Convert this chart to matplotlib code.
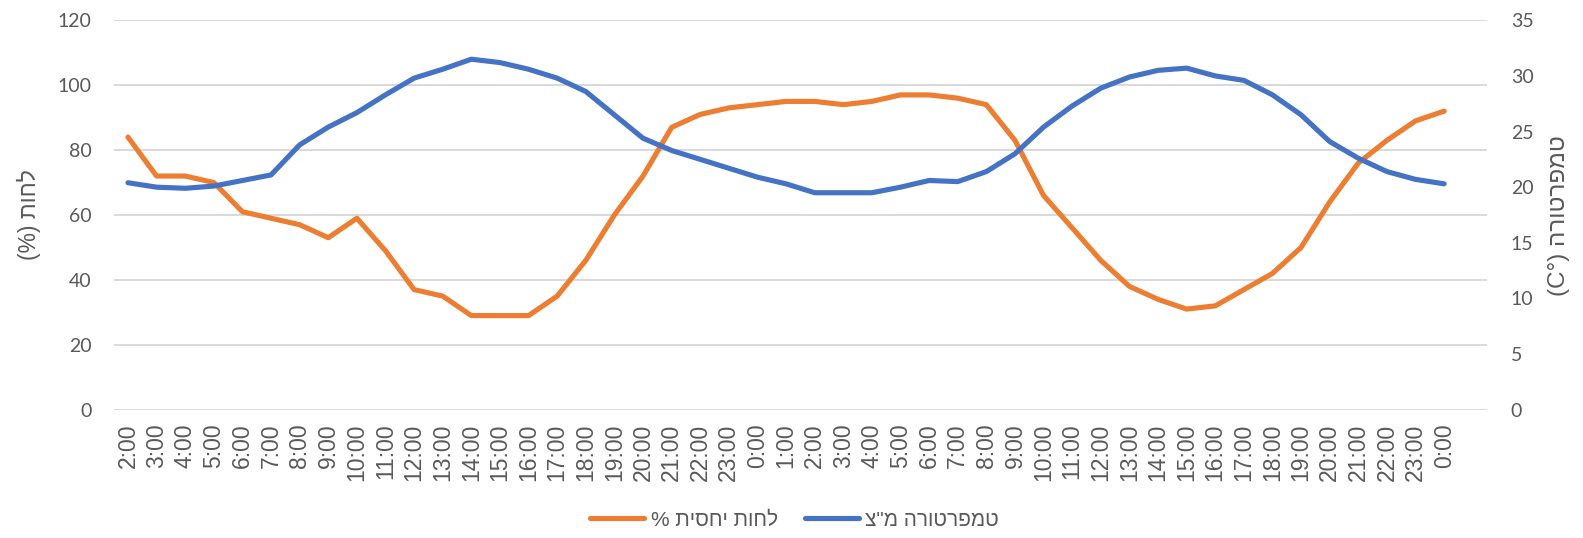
import matplotlib
matplotlib.use('Agg')
import matplotlib.pyplot as plt
from matplotlib import font_manager

# category labels (48th slot is empty, as in the original chart)
hours = ['2:00', '3:00', '4:00', '5:00', '6:00', '7:00', '8:00', '9:00', '10:00', '11:00',
         '12:00', '13:00', '14:00', '15:00', '16:00', '17:00', '18:00', '19:00', '20:00',
         '21:00', '22:00', '23:00',
         '0:00', '1:00', '2:00', '3:00', '4:00', '5:00', '6:00', '7:00', '8:00', '9:00',
         '10:00', '11:00', '12:00', '13:00', '14:00', '15:00', '16:00', '17:00', '18:00',
         '19:00', '20:00', '21:00', '22:00', '23:00', '0:00']

humidity = [84, 72, 72, 70, 61, 59, 57, 53, 59, 49, 37, 35, 29, 29, 29, 35, 46, 60, 72,
            87, 91, 93, 94, 95, 95, 94, 95, 97, 97, 96, 94, 83, 66, 56, 46, 38, 34, 31,
            32, 37, 42, 50, 64, 76, 83, 89, 92]

temperature = [20.4, 20.0, 19.9, 20.1, 20.6, 21.1, 23.8, 25.4, 26.7, 28.3, 29.8, 30.6,
               31.5, 31.2, 30.6, 29.8, 28.6, 26.5, 24.4, 23.3, 22.5, 21.7, 20.9, 20.3,
               19.5, 19.5, 19.5, 20.0, 20.6, 20.5, 21.4, 23.0, 25.4, 27.3, 28.9, 29.9,
               30.5, 30.7, 30.0, 29.6, 28.3, 26.5, 24.1, 22.6, 21.4, 20.7, 20.3]

hum_name = 'לחות יחסית %'
temp_name = 'טמפרטורה מ"צ'
hum_axis = 'לחות (%)'
temp_axis = 'טמפרטורה (°C)'


def vis(s):
    # matplotlib has no bidi support: reverse for display, mirror brackets
    r = s[::-1]
    return r.translate(str.maketrans('()', ')('))


names = {f.name for f in font_manager.fontManager.ttflist}
narrow = 'Liberation Sans Narrow' if 'Liberation Sans Narrow' in names else 'Liberation Sans'
num_font = 'Lato' if 'Lato' in names else 'DejaVu Sans'

grey = '#595959'
orange = '#ED7D31'
blue = '#4472C4'

fig = plt.figure(figsize=(15.83, 5.38), dpi=100)
ax = fig.add_axes([0.0718, 0.2385, 0.8676, 0.7238])
ax2 = ax.twinx()

x = list(range(len(hours)))
l1, = ax.plot(x, humidity, color=orange, lw=3.7, solid_capstyle='round',
              solid_joinstyle='round', label=vis(hum_name))
l2, = ax2.plot(x, temperature, color=blue, lw=3.7, solid_capstyle='round',
               solid_joinstyle='round', label=vis(temp_name))

ax.set_xlim(-0.5, 47.5)
ax.set_ylim(0, 120)
ax2.set_ylim(0, 35)
ax.set_yticks(range(0, 121, 20))
ax2.set_yticks(range(0, 36, 5))
ax.yaxis.grid(True, color='#d9d9d9', lw=1.4)
ax.set_axisbelow(True)

ax.set_xticks(x)
ax.set_xticklabels(hours, rotation=90, fontsize=16.5, color=grey, family=narrow)
ax.tick_params(axis='x', length=0, pad=10)
ax.tick_params(axis='y', length=0, pad=16, labelsize=14, labelcolor=grey)
ax2.tick_params(axis='y', length=0, pad=17, labelsize=14, labelcolor=grey)
for t in ax.get_yticklabels() + ax2.get_yticklabels():
    t.set_family(num_font)

for a in (ax, ax2):
    for s in a.spines.values():
        s.set_visible(False)

fig.text(0.018, 0.6005, vis(hum_axis), rotation=90, ha='center', va='center',
         fontsize=16.5, color=grey, family='Liberation Sans')
fig.text(0.985, 0.600, vis(temp_axis), rotation=90, ha='center', va='center',
         fontsize=17.5, color=grey, family='Liberation Sans')

fig.legend([l1, l2], [vis(hum_name), vis(temp_name)], loc='center',
           bbox_to_anchor=(0.502, 0.033), ncol=2, frameon=False,
           handlelength=2.6, columnspacing=1.3, handletextpad=0.3,
           prop={'family': narrow, 'size': 15}, labelcolor=grey)

fig.savefig('out.png', dpi=100)
